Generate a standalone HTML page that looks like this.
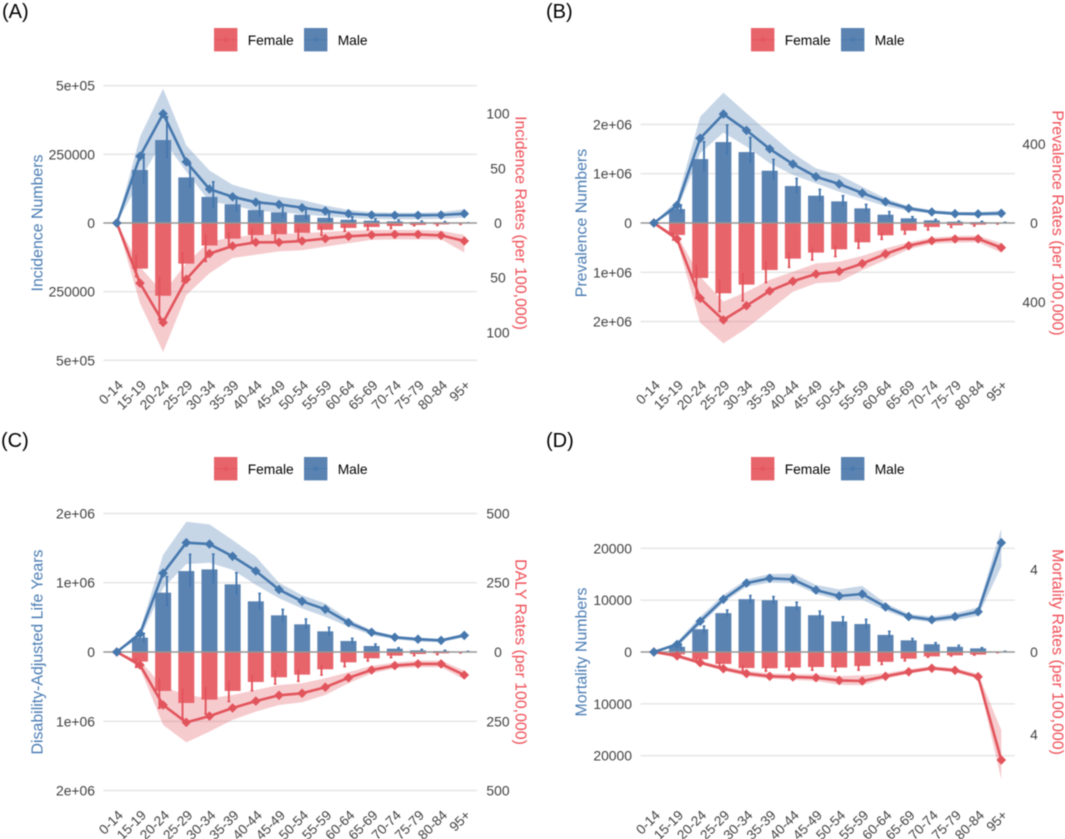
<!DOCTYPE html>
<html>
<head>
<meta charset="utf-8">
<title>Age and sex burden chart</title>
<style>
html,body{margin:0;padding:0;background:#fff;width:1065px;height:839px;overflow:hidden}
svg{display:block;font-family:"Liberation Sans",sans-serif;filter:blur(0.4px)}
</style>
</head>
<body>
<svg id="figure" width="1065" height="839" viewBox="0 0 1065 839" xmlns="http://www.w3.org/2000/svg"></svg>
<script>
const categories = ['0-14','15-19','20-24','25-29','30-34','35-39','40-44','45-49','50-54','55-59','60-64','65-69','70-74','75-79','80-84','95+'];

// Panel A: numbers in thousands, rates per 100,000
const incMaleBars = [0,193,302,166,95,68,47,39,30,19,12,8.5,6,3.6,2.4,1];
const incFemaleBars = [0,166,265,148,82,57,44,41,36,25,18,14.5,11,7,5,2];
const incMaleErrHi = [0,251,387,217,150,96,78,65,57,35,23,15,11,7,5,1];
const incMaleErrLo = [0,144,235,126,53,41,23,19,13,5,5,2.4,1,1,1,0];
const incFemaleErrLo = [0,116,195,104,41,31,19,25,19,13,7,4,4,4,2,0];
const incFemaleErrHi = [0,195,353,213,140,86,68,68,60,45,30,25,20,10,9,5];
const incMaleRate = [0,61,100,56,31,24,19,17,14,11,8.5,7.3,7,7,7.3,8.5];
const incMaleRateHi = [0,79,123,71,48,35,29,24,21,16,12,10,9.5,9.5,10,12.5];
const incMaleRateLo = [0,39,76,47,19.5,16.5,11,10,8,6,4.6,3.7,3.4,3.4,3.7,5];
const incFemaleRate = [0,55,91,51.5,28,21,17.7,17.7,16.5,14.3,12.2,11,10.4,10.4,11.3,16.5];
const incFemaleRateHi = [0,73.5,118,66,46,32,29,26,25,21.6,18.6,15.5,15,15,15,27];
const incFemaleRateLo = [0,40,64,37,17,13,11,10,9.5,8,7,6.4,6.4,6.4,7,11];
const incTicks = [500,250,0,-250,-500];
const incTickLabels = ['5e+05','250000','0','250000','5e+05'];
const incRateTicks = [100,50,0,-50,-100];
const incRateTickLabels = ['100','50','0','50','100'];

// Panel B
const prevMaleBars = [0,284,1297,1642,1439,1061,750,554,439,297,169,95,54,27,20,5];
const prevFemaleBars = [0,243,1115,1426,1250,953,723,601,534,392,250,155,81,47,34,10];
const prevMaleErrHi = [0,365,1649,1986,1736,1290,905,682,554,378,230,128,74,40,34,14];
const prevMaleErrLo = [0,196,1041,1378,1209,872,601,432,345,230,115,61,34,14,7,0];
const prevFemaleErrLo = [0,176,851,1142,1007,770,581,493,446,318,196,128,74,40,20,0];
const prevFemaleErrHi = [0,345,1527,1797,1581,1209,899,750,682,513,331,223,142,88,61,20];
const prevMaleRate = [0,90,430,553,470,376,299,235,198,152,108,74,56,47,46,49];
const prevMaleRateHi = [0,117,540,662,557,455,354,277,244,184,125,86,66,58,56,63];
const prevMaleRateLo = [0,66,354,459,388,303,244,201,159,122,86,61,47,39,36,37];
const prevFemaleRate = [0,81,382,492,420,345,296,259,245,206,157,115,90,81,80,125];
const prevFemaleRateHi = [0,95,506,611,535,442,349,306,298,239,188,134,105,100,98,150];
const prevFemaleRateLo = [0,61,272,399,349,289,247,205,196,167,129,98,74,66,64,103];
const prevTicks = [2000,1000,0,-1000,-2000];
const prevTickLabels = ['2e+06','1e+06','0','1e+06','2e+06'];
const prevRateTicks = [400,0,-400];
const prevRateTickLabels = ['400','0','400'];

// Panel C
const dalyMaleBars = [0,207,856,1168,1192,976,731,529,399,298,159,87,48,24,14,5];
const dalyFemaleBars = [0,139,562,736,688,562,433,365,327,250,149,91,53,29,19,5];
const dalyMaleErrHi = [0,269,1087,1409,1413,1144,846,615,476,356,197,115,62,38,24,10];
const dalyMaleErrLo = [0,135,654,942,990,822,606,437,327,231,115,58,29,10,5,0];
const dalyFemaleErrLo = [0,91,380,524,500,413,332,269,250,188,125,82,34,19,10,0];
const dalyFemaleErrHi = [0,221,812,957,894,716,558,462,423,332,212,130,82,53,38,14];
const dalyMaleRate = [0,66,284,394,389,345,292,225,183,154,106,71,53,46,42,60];
const dalyMaleRateHi = [0,79,350,470,460,404,344,250,205,175,118,79,58,52,48,67];
const dalyMaleRateLo = [0,49,230,317,322,296,242,194,157,127,91,61,46,37,35,53];
const dalyFemaleRate = [0,47,191,254,231,202,177,156,149,127,93,65,49,43,43,83];
const dalyFemaleRateHi = [0,59,263,326,287,245,215,191,181,155,113,77,59,55,55,99];
const dalyFemaleRateLo = [0,31,125,155,167,155,137,119,113,95,73,50,38,31,31,67];
const dalyTicks = [2000,1000,0,-1000,-2000];
const dalyTickLabels = ['2e+06','1e+06','0','1e+06','2e+06'];
const dalyRateTicks = [500,250,0,-250,-500];
const dalyRateTickLabels = ['500','250','0','250','500'];

// Panel D
const mortMaleBars = [0,1.0,4.4,7.5,10.2,10.0,8.8,7.1,5.9,5.4,3.3,2.25,1.5,1.0,0.7,0.06];
const mortFemaleBars = [0,0.45,1.4,2.3,3.1,3.15,3.0,2.9,3.0,2.7,1.9,1.3,0.85,0.65,0.5,0.07];
const mortMaleErrHi = [0,1.54,5.0,8.1,10.9,10.7,9.6,7.9,6.8,6.3,4.0,2.6,1.8,1.3,0.84,0.13];
const mortMaleErrLo = [0,0.51,3.6,6.8,9.4,9.3,8.1,6.4,4.9,4.4,2.8,1.9,1.2,0.8,0.5,0];
const mortFemaleErrLo = [0,0.2,1.0,1.9,2.5,2.7,2.5,2.6,2.6,2.3,1.5,1,0.6,0.45,0.3,0];
const mortFemaleErrHi = [0,0.77,1.9,2.8,3.6,3.7,3.5,3.5,3.7,3.5,2.4,1.7,1,0.77,0.6,0.13];
const mortMaleRate = [0,0.37,1.49,2.56,3.35,3.58,3.53,3.01,2.72,2.82,2.19,1.72,1.57,1.72,1.96,5.31];
const mortMaleRateHi = [0,0.49,1.72,2.77,3.53,3.79,3.81,3.26,3.04,3.21,2.36,1.85,1.72,1.88,2.17,6.0];
const mortMaleRateLo = [0,0.26,1.31,2.4,3.17,3.37,3.34,2.82,2.53,2.53,2.01,1.59,1.44,1.55,1.75,4.15];
const mortFemaleRate = [0,0.19,0.52,0.81,1.05,1.18,1.21,1.25,1.38,1.41,1.18,0.96,0.79,0.89,1.2,5.25];
const mortFemaleRateHi = [0,0.29,0.6,0.92,1.17,1.3,1.36,1.41,1.6,1.62,1.3,1.07,0.87,1,1.3,6.2];
const mortFemaleRateLo = [0,0.11,0.42,0.7,0.91,1.04,1.07,1.08,1.17,1.13,1.04,0.84,0.68,0.78,1.07,3.79];
const mortTicks = [20,10,0,-10,-20];
const mortTickLabels = ['20000','10000','0','10000','20000'];
const mortRateTicks = [4,0,-4];
const mortRateTickLabels = ['4','0','4'];

const panels = [
  {id:'a',tag:'(A)',tagX:2,tagY:18,x0:116.8,x1:464.3,gl:103.3,gr:477,zero:223,numPx:0.2747,ratePx:1.093,
   lx:95,rx:498,ltx:37,rtx:521,legX:214,legY:28,xlabY:386,leftTitle:'Incidence Numbers',rightTitle:'Incidence Rates (per 100,000)',
   mb:incMaleBars,fb:incFemaleBars,meh:incMaleErrHi,mel:incMaleErrLo,fel:incFemaleErrLo,feh:incFemaleErrHi,
   mr:incMaleRate,mrh:incMaleRateHi,mrl:incMaleRateLo,fr:incFemaleRate,frh:incFemaleRateHi,frl:incFemaleRateLo,
   nt:incTicks,ntl:incTickLabels,rt:incRateTicks,rtl:incRateTickLabels},
  {id:'b',tag:'(B)',tagX:546,tagY:18,x0:653.9,x1:1001.3,gl:640.6,gr:1014.9,zero:223,numPx:0.0493,ratePx:0.197,
   lx:632,rx:1034,ltx:581,rtx:1058,legX:751,legY:28,xlabY:386,leftTitle:'Prevalence Numbers',rightTitle:'Prevalence Rates (per 100,000)',
   mb:prevMaleBars,fb:prevFemaleBars,meh:prevMaleErrHi,mel:prevMaleErrLo,fel:prevFemaleErrLo,feh:prevFemaleErrHi,
   mr:prevMaleRate,mrh:prevMaleRateHi,mrl:prevMaleRateLo,fr:prevFemaleRate,frh:prevFemaleRateHi,frl:prevFemaleRateLo,
   nt:prevTicks,ntl:prevTickLabels,rt:prevRateTicks,rtl:prevRateTickLabels},
  {id:'c',tag:'(C)',tagX:1,tagY:447,x0:116.8,x1:464.3,gl:103.3,gr:477,zero:652,numPx:0.0693,ratePx:0.2773,
   lx:95,rx:498,ltx:37,rtx:521,legX:214,legY:457,xlabY:816,leftTitle:'Disability-Adjusted Life Years',rightTitle:'DALY Rates (per 100,000)',
   mb:dalyMaleBars,fb:dalyFemaleBars,meh:dalyMaleErrHi,mel:dalyMaleErrLo,fel:dalyFemaleErrLo,feh:dalyFemaleErrHi,
   mr:dalyMaleRate,mrh:dalyMaleRateHi,mrl:dalyMaleRateLo,fr:dalyFemaleRate,frh:dalyFemaleRateHi,frl:dalyFemaleRateLo,
   nt:dalyTicks,ntl:dalyTickLabels,rt:dalyRateTicks,rtl:dalyRateTickLabels},
  {id:'d',tag:'(D)',tagX:546,tagY:447,x0:653.9,x1:1001.3,gl:640.6,gr:1014.9,zero:652,numPx:5.183,ratePx:20.58,
   lx:632,rx:1034,ltx:581,rtx:1058,legX:751,legY:457,xlabY:816,leftTitle:'Mortality Numbers',rightTitle:'Mortality Rates (per 100,000)',
   mb:mortMaleBars,fb:mortFemaleBars,meh:mortMaleErrHi,mel:mortMaleErrLo,fel:mortFemaleErrLo,feh:mortFemaleErrHi,
   mr:mortMaleRate,mrh:mortMaleRateHi,mrl:mortMaleRateLo,fr:mortFemaleRate,frh:mortFemaleRateHi,frl:mortFemaleRateLo,
   nt:mortTicks,ntl:mortTickLabels,rt:mortRateTicks,rtl:mortRateTickLabels}
];

const MALE_BAR='#5b83b2', FEMALE_BAR='#e8646b', MALE_LINE='#4678ae', FEMALE_LINE='#e2545c';
const NS='http://www.w3.org/2000/svg';
const root=document.getElementById('figure');

function make(parent,type,attrs,name,text){
  const el=document.createElementNS(NS,type);
  for(const k in attrs){el.setAttribute(k,attrs[k]);}
  
  
  if(text!==undefined){el.textContent=text;}
  parent.appendChild(el);
  return el;
}

function drawPanel(p){
  const g=make(root,'g',{},'panel-'+p.id);
  const x=i=>p.x0+(p.x1-p.x0)*i/(categories.length-1);
  const yNum=v=>p.zero-v*p.numPx;
  const yRate=v=>p.zero-v*p.ratePx;
  const barW=(p.x1-p.x0)/(categories.length-1)*0.69;
  const errOff=3.8;

  make(g,'text',{x:p.tagX,y:p.tagY,'font-size':20,fill:'#000'},'panel-label',p.tag);

  // legend
  const leg=make(g,'g',{},'legend');
  [['Female',0,FEMALE_BAR,FEMALE_LINE],['Male',90,MALE_BAR,MALE_LINE]].forEach(function(e){
    const lx=p.legX+e[1];
    const ent=make(leg,'g',{},'legend-entry-'+e[0].toLowerCase());
    make(ent,'rect',{x:lx,y:p.legY,width:23.4,height:23.4,fill:e[2]},'legend-swatch');
    make(ent,'line',{x1:lx,x2:lx+23.4,y1:p.legY+11.7,y2:p.legY+11.7,stroke:e[3],'stroke-width':1.4,opacity:0.6},'legend-line');
    make(ent,'path',{d:diamond(lx+11.7,p.legY+11.7,3.2),fill:e[3],opacity:0.6},'legend-marker');
    make(ent,'text',{x:lx+33.7,y:p.legY+17,'font-size':13.8,fill:'#000'},'legend-label',e[0]);
  });

  // grid
  p.nt.forEach(function(t,i){
    if(t!==0){
      make(g,'line',{x1:p.gl,x2:p.gr,y1:yNum(t),y2:yNum(t),stroke:'#e8e8e8','stroke-width':1.6},'gridline');
    }
    make(g,'text',{x:p.lx,y:yNum(t)+5,'font-size':13.9,fill:'#404040','text-anchor':'end'},'left-tick-label',p.ntl[i]);
  });
  p.rt.forEach(function(t,i){
    make(g,'text',{x:p.rx,y:yRate(t)+5,'font-size':13.9,fill:'#404040','text-anchor':'middle'},'right-tick-label',p.rtl[i]);
  });

  // ribbons
  const ribbon=(hi,lo,sign,color,name)=>{
    const pts=[];
    hi.forEach((v,i)=>pts.push(x(i).toFixed(1)+','+yRate(sign*v).toFixed(1)));
    for(let i=lo.length-1;i>=0;i--){pts.push(x(i).toFixed(1)+','+yRate(sign*lo[i]).toFixed(1));}
    make(g,'polygon',{points:pts.join(' '),fill:color,opacity:0.3},name);
  };
  ribbon(p.mrh,p.mrl,1,MALE_LINE,'male-rate-ribbon');
  ribbon(p.frh,p.frl,-1,FEMALE_LINE,'female-rate-ribbon');

  // bars
  p.mb.forEach(function(v,i){
    make(g,'rect',{x:x(i)-barW/2,y:yNum(v),width:barW,height:v*p.numPx,fill:MALE_BAR},'bar-male-'+categories[i]);
  });
  p.fb.forEach(function(v,i){
    make(g,'rect',{x:x(i)-barW/2,y:p.zero,width:barW,height:v*p.numPx,fill:FEMALE_BAR},'bar-female-'+categories[i]);
  });

  // error bars
  const err=(hi,lo,sign,off,color,name)=>{
    hi.forEach(function(v,i){
      if(i===0){return;}
      const ex=x(i)+off;
      make(g,'line',{x1:ex,x2:ex,y1:yNum(sign*v),y2:yNum(sign*lo[i]),stroke:color,'stroke-width':1.9},name);
      make(g,'line',{x1:ex-1.4,x2:ex+1.4,y1:yNum(sign*v),y2:yNum(sign*v),stroke:color,'stroke-width':1.5},name+'-cap');
    });
  };
  err(p.meh,p.mel,1,errOff,MALE_LINE,'male-error-bar');
  err(p.feh,p.fel,-1,-errOff,FEMALE_LINE,'female-error-bar');

  // zero line
  make(g,'line',{x1:p.gl,x2:p.gr,y1:p.zero,y2:p.zero,stroke:'#959595','stroke-width':1.6},'zero-line');

  // lines and markers
  const series=(vals,sign,color,name)=>{
    const pts=vals.map((v,i)=>x(i).toFixed(1)+','+yRate(sign*v).toFixed(1)).join(' ');
    make(g,'polyline',{points:pts,fill:'none',stroke:color,'stroke-width':2.6,'stroke-linejoin':'round'},name+'-line');
    vals.forEach(function(v,i){
      make(g,'path',{d:diamond(x(i),yRate(sign*v),4.8),fill:color},name+'-point');
    });
  };
  series(p.fr,-1,FEMALE_LINE,'female-rate');
  series(p.mr,1,MALE_LINE,'male-rate');

  // x labels
  categories.forEach(function(c,i){
    const tx=x(i)+7, ty=p.xlabY;
    make(g,'text',{x:tx,y:ty,'font-size':13.6,fill:'#404040','text-anchor':'end',transform:'rotate(-45 '+tx+' '+ty+')'},'x-tick-label',c);
  });

  // axis titles
  make(g,'text',{x:p.ltx,y:p.zero,'font-size':15.9,fill:'#4a7cb3','text-anchor':'middle',dy:5.5,transform:'rotate(-90 '+p.ltx+' '+p.zero+')'},'left-axis-title',p.leftTitle);
  make(g,'text',{x:p.rtx,y:p.zero,'font-size':15.9,fill:'#ee4f58','text-anchor':'middle',dy:5.5,transform:'rotate(90 '+p.rtx+' '+p.zero+')'},'right-axis-title',p.rightTitle);
}

function diamond(cx,cy,r){
  return 'M'+cx.toFixed(1)+' '+(cy-r).toFixed(1)+'L'+(cx+r).toFixed(1)+' '+cy.toFixed(1)+'L'+cx.toFixed(1)+' '+(cy+r).toFixed(1)+'L'+(cx-r).toFixed(1)+' '+cy.toFixed(1)+'Z';
}

panels.forEach(drawPanel);
</script>
</body>
</html>
